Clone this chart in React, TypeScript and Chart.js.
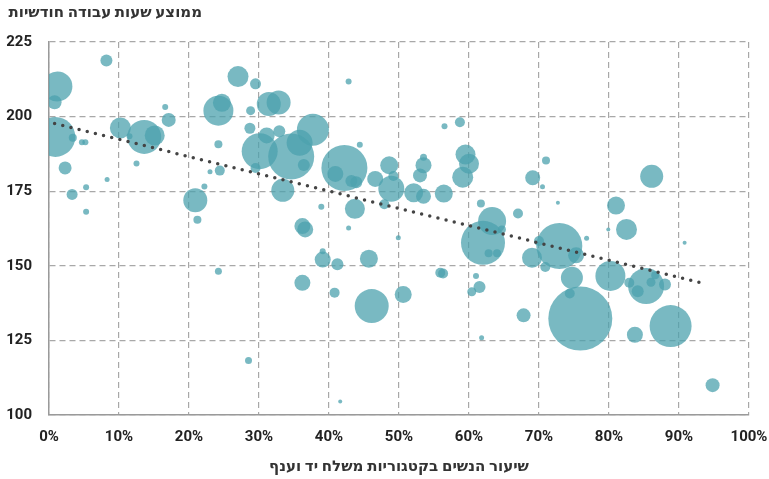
import React, { useEffect, useRef } from "react";
import { Chart, registerables } from "chart.js";

Chart.register(...registerables);

// Share of women in occupation/industry category (%)
const shareWomen = [
  8.2, 1.2, 0.8, 0.9, 3.4, 4.7, 5.2, 2.3, 5.3, 8.3,
  3.3, 5.3, 10.2, 11.5, 13.6, 15.1, 16.6, 17.1, 12.5, 24.2,
  24.7, 27.0, 29.5, 28.8, 28.7, 24.2, 24.4, 23.0, 22.2, 20.9,
  21.2, 30.1, 34.6, 31.4, 32.8, 32.9, 35.8, 37.7, 36.4, 33.4,
  38.9, 36.2, 36.6, 42.8, 44.4, 42.2, 40.9, 43.2, 43.9, 43.7,
  46.6, 48.6, 49.2, 48.9, 47.9, 52.1, 53.5, 53.0, 53.5, 53.5,
  56.4, 56.5, 58.7, 59.5, 60.0, 59.1, 61.7, 63.3, 62.0, 64.7,
  62.8, 64.0, 67.0, 71.0, 69.1, 70.5, 72.7, 86.1, 81.0, 82.5,
  79.9, 76.8, 90.8, 49.9, 70.0, 72.9, 69.0, 70.9, 75.3, 74.7,
  80.2, 85.3, 82.9, 84.1, 86.0, 86.6, 88.0, 74.4, 75.9, 67.8,
  88.8, 83.7, 94.8, 36.2, 39.1, 39.1, 41.2, 40.8, 42.8, 45.7,
  46.1, 50.6, 41.6, 55.9, 56.3, 61.0, 61.5, 60.4, 61.8, 24.2,
  28.5, 29.5, 31.1,
];

// Average monthly working hours
const monthlyHours = [
  218.8, 210.1, 204.8, 193.2, 192.9, 191.4, 191.4, 182.8, 176.3, 178.9,
  173.9, 168.1, 196.2, 193.4, 193.2, 193.7, 203.2, 198.9, 184.3, 202.0,
  204.6, 213.4, 211.0, 202.0, 196.1, 190.7, 181.9, 181.5, 176.6, 172.0,
  165.4, 188.4, 186.6, 204.2, 204.7, 195.1, 191.2, 195.6, 183.8, 175.3,
  169.8, 163.3, 162.2, 211.8, 190.6, 182.8, 180.8, 178.4, 178.0, 169.1,
  179.1, 183.7, 180.1, 175.8, 170.6, 174.5, 173.3, 180.3, 183.7, 186.4,
  174.2, 196.8, 198.1, 187.3, 184.2, 179.7, 170.9, 165.0, 157.7, 162.2,
  154.2, 154.2, 167.5, 185.3, 179.5, 176.5, 171.1, 180.0, 170.2, 162.2,
  162.2, 159.2, 157.7, 159.4, 158.3, 156.6, 152.7, 149.6, 153.5, 146.0,
  146.6, 143.2, 144.3, 141.5, 144.5, 146.8, 143.7, 140.7, 132.3, 133.4,
  129.8, 126.9, 110.0, 144.3, 152.1, 154.9, 150.5, 141.0, 162.7, 152.4,
  136.5, 140.4, 104.5, 147.7, 147.4, 146.6, 142.9, 141.3, 125.9, 148.2,
  118.3, 182.8, 193.7,
];

// Bubble size (number employed, as bubble radius)
const bubbleSize = [
  6, 15, 7, 20, 4, 3, 3, 6.5, 3, 2.5,
  5.5, 3, 10.5, 3, 17, 10, 3, 7, 3, 15,
  9, 10.5, 5.5, 4.5, 5.5, 4, 5, 2.5, 3, 12,
  4, 18, 23, 12, 12, 6, 13, 16, 6, 11.5,
  3, 8, 8, 3, 3, 23, 8, 6, 6, 10,
  8, 9, 5, 13, 5, 9.5, 7.5, 7, 8, 3.5,
  9, 3, 5, 10, 10, 10.5, 4, 14, 22, 4,
  4, 4, 5, 4, 7.5, 2.5, 2, 11.5, 9, 10.5,
  2, 2.5, 2, 2.5, 5, 23, 10, 5, 8, 11,
  15, 18, 5, 6, 4.5, 4, 6, 5, 32, 7,
  21, 8, 7, 8, 8, 3, 6, 5, 2.5, 9,
  17, 8.5, 2, 5, 5, 3, 6, 4.5, 2.5, 3.5,
  3.5, 5, 8,
];

// Linear trend line end points
const trendShare = [0.8, 93.8];
const trendHours = [197.7, 143.9];

const yTitle = "ממוצע שעות עבודה חודשיות";
const xTitle = "שיעור הנשים בקטגוריות משלח יד וענף";

const FONT = 'Roboto, "Noto Sans", "DejaVu Sans", sans-serif';

export default function App() {
  const canvasRef = useRef<HTMLCanvasElement | null>(null);

  useEffect(() => {
    document.body.style.margin = "0";
    const canvas = canvasRef.current;
    if (!canvas) return;

    const titlesPlugin = {
      id: "titles",
      afterDraw(chart: any) {
        const { ctx, chartArea } = chart;
        ctx.save();
        ctx.fillStyle = "#333";
        ctx.font = `bold 15px ${FONT}`;
        ctx.textBaseline = "middle";
        ctx.direction = "rtl";
        ctx.textAlign = "right";
        ctx.fillText(yTitle, 202, 13);
        ctx.textAlign = "center";
        ctx.fillText(xTitle, (chartArea.left + chartArea.right) / 2, 467);
        ctx.restore();
      },
    };

    const bubbles = shareWomen.map((x, i) => ({
      x,
      y: monthlyHours[i],
      r: bubbleSize[i],
    }));
    const trend = trendShare.map((x, i) => ({ x, y: trendHours[i] }));

    const chart = new Chart(canvas, {
      type: "bubble",
      data: {
        datasets: [
          {
            type: "line",
            data: trend,
            borderColor: "#444",
            borderWidth: 3.5,
            borderDash: [0, 8.4],
            borderCapStyle: "round",
            pointRadius: 0,
            fill: false,
            order: 0,
          } as any,
          {
            type: "bubble",
            data: bubbles,
            backgroundColor: "rgba(76,162,174,0.75)",
            borderWidth: 0,
            order: 1,
          },
        ],
      },
      options: {
        responsive: true,
        maintainAspectRatio: false,
        animation: false,
        layout: { autoPadding: false, padding: { top: 42, right: 20, left: 0, bottom: 0 } },
        plugins: {
          legend: { display: false },
          tooltip: { enabled: false },
        },
        scales: {
          x: {
            type: "linear",
            min: 0,
            max: 100,
            ticks: {
              stepSize: 10,
              padding: 13,
              color: "#222",
              font: { family: FONT, size: 15, weight: "bold" },
              callback: (v: any) => `${v}%`,
            },
            grid: { color: "#a8a8a8", lineWidth: 1.2, drawTicks: false },
            border: { display: true, color: "#9a9a9a", width: 1.5, dash: [6, 4] },
            afterFit: (s: any) => {
              s.height = 64;
              s.paddingLeft = 0;
              s.paddingRight = 0;
            },
          },
          y: {
            type: "linear",
            min: 100,
            max: 225,
            ticks: {
              stepSize: 25,
              padding: 17,
              color: "#222",
              font: { family: FONT, size: 15, weight: "bold" },
            },
            grid: { color: "#a8a8a8", lineWidth: 1.2, drawTicks: false },
            border: { display: true, color: "#9a9a9a", width: 1.5, dash: [6, 4] },
            afterFit: (s: any) => {
              s.width = 49;
              s.paddingTop = 0;
              s.paddingBottom = 0;
            },
          },
        },
      },
      plugins: [titlesPlugin],
    });

    return () => chart.destroy();
  }, []);

  return (
    <div style={{ position: "fixed", left: 0, top: 0, width: "769px", height: "479px" }}>
      <canvas ref={canvasRef} />
    </div>
  );
}
